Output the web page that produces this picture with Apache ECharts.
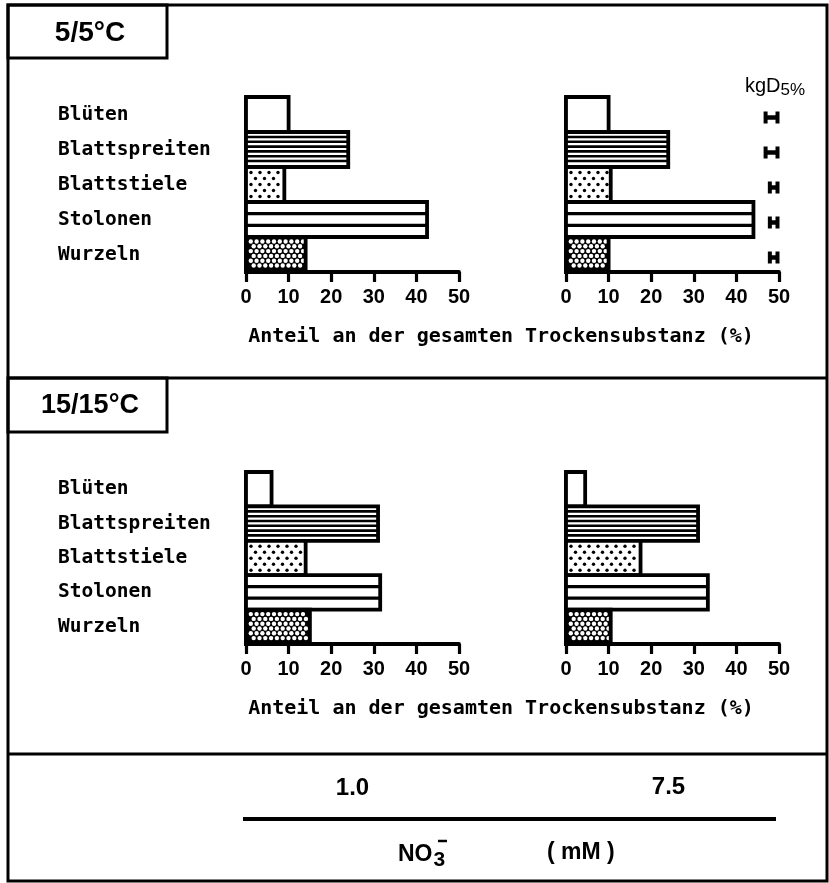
<!DOCTYPE html>
<html>
<head>
<meta charset="utf-8">
<script src="https://cdn.jsdelivr.net/npm/echarts@6.0.0/dist/echarts.min.js"></script>
<style>
html,body{margin:0;padding:0;background:#fff;}
#chart{width:829px;height:883px;}
</style>
</head>
<body>
<div id="chart"></div>
<script>
// ---------------- data ----------------
const categories = ['Blüten', 'Blattspreiten', 'Blattstiele', 'Stolonen', 'Wurzeln'];
const temp5_no3_1_0 = [10, 24, 9, 42.5, 14];
const temp5_no3_7_5 = [10, 24, 10.5, 44, 10];
const temp15_no3_1_0 = [6, 31, 14, 31.5, 15];
const temp15_no3_7_5 = [4.5, 31, 17.5, 33.3, 10.5];
const lsd5_temp5 = [3.5, 3.5, 2.5, 2.5, 2.5];
const xTicks = [0, 10, 20, 30, 40, 50];
const panelTitles = ['5/5°C', '15/15°C'];
const no3Levels = ['1.0', '7.5'];
const axisCaption = 'Anteil an der gesamten Trockensubstanz (%)';

// ---------------- layout ----------------
const MONO = '"DejaVu Sans Mono", monospace';
const SANS = '"Liberation Sans", Arial, sans-serif';
const gridX = [246, 566];
const gridW = 213;
const gridTop = [97, 472];
const gridH = [175, 172];
const xMin = xTicks[0], xMax = xTicks[xTicks.length - 1], xStep = xTicks[1] - xTicks[0];

function renderBar(params, api) {
  const idx = api.value(1), val = api.value(0);
  const p0 = api.coord([0, idx]), p1 = api.coord([val, idx]);
  const h = api.size([0, 1])[1];
  const x = p0[0], y = p0[1] - h / 2, w = p1[0] - p0[0];
  const cat = categories[idx];
  const ch = [];
  ch.push({type: 'rect', shape: {x, y, width: w, height: h}, style: {fill: '#fff'}});
  if (cat === 'Blattspreiten') {
    for (let yy = y + 5; yy < y + h - 2.5; yy += 4.8) {
      ch.push({type: 'line', shape: {x1: x, y1: yy, x2: x + w, y2: yy}, style: {stroke: '#000', lineWidth: 2.6}});
    }
  } else if (cat === 'Blattstiele') {
    let r = 0;
    for (let yy = y + 5.5; yy < y + h - 3; yy += 6, r++) {
      for (let xx = x + 5 + (r % 2) * 4.5; xx < x + w - 3; xx += 9) {
        ch.push({type: 'circle', shape: {cx: xx, cy: yy, r: 1.7}, style: {fill: '#000'}});
      }
    }
  } else if (cat === 'Stolonen') {
    [1, 2].forEach(k => {
      const yy = y + h * k / 3;
      ch.push({type: 'line', shape: {x1: x, y1: yy, x2: x + w, y2: yy}, style: {stroke: '#000', lineWidth: 3.2}});
    });
  } else if (cat === 'Wurzeln') {
    ch.push({type: 'rect', shape: {x, y, width: w, height: h}, style: {fill: '#000'}});
    let r = 0;
    for (let yy = y + 4.5; yy < y + h - 2; yy += 4.8, r++) {
      for (let xx = x + 4.8 + (r % 2) * 2.9; xx < x + w - 2; xx += 5.8) {
        ch.push({type: 'circle', shape: {cx: xx, cy: yy, r: 2.2}, style: {fill: '#fff'}});
      }
    }
  }
  ch.push({type: 'rect', shape: {x, y, width: w, height: h}, style: {fill: 'none', stroke: '#000', lineWidth: 3.8}});
  return {type: 'group', children: ch};
}

function renderLsd(params, api) {
  const idx = api.value(1), v = api.value(0);
  const pR = api.coord([xMax, idx]), pL = api.coord([xMax - v, idx]);
  const y = pR[1] + 3;
  const xl = pL[0] + 1.5, xr = pR[0] - 1.5;
  return {type: 'group', children: [
    {type: 'line', shape: {x1: xl, y1: y, x2: xr, y2: y}, style: {stroke: '#000', lineWidth: 4.5}},
    {type: 'line', shape: {x1: xl, y1: y - 6, x2: xl, y2: y + 6}, style: {stroke: '#000', lineWidth: 4}},
    {type: 'line', shape: {x1: xr, y1: y - 6, x2: xr, y2: y + 6}, style: {stroke: '#000', lineWidth: 4}}
  ]};
}

const grids = [], xAxes = [], yAxes = [], series = [];
const panels = [[temp5_no3_1_0, temp5_no3_7_5], [temp15_no3_1_0, temp15_no3_7_5]];
panels.forEach((pair, pi) => {
  pair.forEach((vals, ci) => {
    const gi = grids.length;
    grids.push({left: gridX[ci], top: gridTop[pi], width: gridW, height: gridH[pi]});
    xAxes.push({
      gridIndex: gi, type: 'value', min: xMin, max: xMax, interval: xStep,
      axisLine: {show: true, lineStyle: {color: '#000', width: 3.8}},
      axisTick: {show: true, length: 10, lineStyle: {color: '#000', width: 3.2}},
      splitLine: {show: false},
      axisLabel: {color: '#000', fontFamily: SANS, fontWeight: 'bold', fontSize: 20, margin: 15}
    });
    yAxes.push({
      gridIndex: gi, type: 'category', data: categories, inverse: true,
      axisLine: {show: true, lineStyle: {color: '#000', width: 3.8}},
      axisTick: {show: false},
      axisLabel: ci === 0 ? {show: true, align: 'left', margin: 188, color: '#000', fontFamily: MONO, fontWeight: 'bold', fontSize: 19.5} : {show: false}
    });
    series.push({
      type: 'custom', xAxisIndex: gi, yAxisIndex: gi, clip: false,
      renderItem: renderBar, encode: {x: 0, y: 1},
      data: vals.map((v, i) => [v, i])
    });
    if (pi === 0 && ci === 1) {
      series.push({
        type: 'custom', xAxisIndex: gi, yAxisIndex: gi, clip: false,
        renderItem: renderLsd, encode: {x: 0, y: 1},
        data: lsd5_temp5.map((v, i) => [v, i])
      });
    }
  });
});

const captionX = 501;
const graphic = [
  {type: 'rect', shape: {x: 8, y: 5, width: 819, height: 876}, style: {fill: 'none', stroke: '#000', lineWidth: 3}},
  {type: 'rect', shape: {x: 8, y: 5, width: 159, height: 53}, style: {fill: 'none', stroke: '#000', lineWidth: 3}},
  {type: 'line', shape: {x1: 8, y1: 378, x2: 827, y2: 378}, style: {stroke: '#000', lineWidth: 3}},
  {type: 'rect', shape: {x: 8, y: 378, width: 159, height: 54}, style: {fill: 'none', stroke: '#000', lineWidth: 3}},
  {type: 'line', shape: {x1: 8, y1: 754, x2: 827, y2: 754}, style: {stroke: '#000', lineWidth: 3}},
  {type: 'text', x: 90, y: 33, style: {text: panelTitles[0], fill: '#000', font: 'bold 28px ' + SANS, align: 'center', verticalAlign: 'middle'}},
  {type: 'text', x: 90, y: 406, style: {text: panelTitles[1], fill: '#000', font: 'bold 27px ' + SANS, align: 'center', verticalAlign: 'middle'}},
  {type: 'text', x: captionX, y: gridTop[0] + gridH[0] + 65, style: {text: axisCaption, fill: '#000', font: 'bold 20px ' + MONO, align: 'center', verticalAlign: 'middle'}},
  {type: 'text', x: captionX, y: gridTop[1] + gridH[1] + 65, style: {text: axisCaption, fill: '#000', font: 'bold 20px ' + MONO, align: 'center', verticalAlign: 'middle'}},
  {type: 'text', x: 745, y: 86, style: {
    text: '{a|kgD}{b|5%}', verticalAlign: 'middle',
    rich: {a: {fontFamily: SANS, fontSize: 20, color: '#000'}, b: {fontFamily: SANS, fontSize: 17, color: '#000', padding: [9, 0, 0, 0]}}
  }},
  {type: 'text', x: gridX[0] + gridW / 2, y: 788, style: {text: no3Levels[0], fill: '#000', font: 'bold 24px ' + SANS, align: 'center', verticalAlign: 'middle'}},
  {type: 'text', x: gridX[1] + gridW / 2 - 4, y: 787, style: {text: no3Levels[1], fill: '#000', font: 'bold 24px ' + SANS, align: 'center', verticalAlign: 'middle'}},
  {type: 'line', shape: {x1: 243, y1: 819, x2: 776, y2: 819}, style: {stroke: '#000', lineWidth: 3.8}},
  {type: 'text', x: 398, y: 855, style: {
    text: '{a|NO}{b|3}', verticalAlign: 'middle',
    rich: {a: {fontFamily: SANS, fontWeight: 'bold', fontSize: 23, color: '#000'}, b: {fontFamily: SANS, fontWeight: 'bold', fontSize: 21, color: '#000', padding: [10, 0, 0, 1]}}
  }},
  {type: 'line', shape: {x1: 438, y1: 841, x2: 447, y2: 841}, style: {stroke: '#000', lineWidth: 2.5}},
  {type: 'text', x: 547, y: 853, style: {text: '( mM )', fill: '#000', font: 'bold 23px ' + SANS, align: 'left', verticalAlign: 'middle'}}
];

const chart = echarts.init(document.getElementById('chart'), null, {renderer: 'canvas'});
chart.setOption({
  animation: false,
  backgroundColor: '#fff',
  grid: grids, xAxis: xAxes, yAxis: yAxes, series: series, graphic: graphic
});
</script>
</body>
</html>
